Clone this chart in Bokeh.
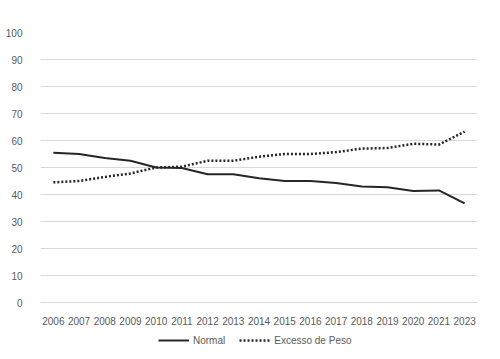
from bokeh.plotting import figure
from bokeh.models import FactorRange, Legend, LegendItem, Range1d, FixedTicker
from bokeh.layouts import column
from bokeh.embed import file_html
from bokeh.resources import INLINE

years = ["2006", "2007", "2008", "2009", "2010", "2011", "2012", "2013", "2014",
         "2015", "2016", "2017", "2018", "2019", "2020", "2021", "2023"]
normal = [55.5, 55.0, 53.5, 52.5, 50.0, 49.8, 47.5, 47.5, 46.0, 45.0, 45.0, 44.3,
          43.0, 42.7, 41.3, 41.5, 36.7]
excesso = [44.5, 45.0, 46.5, 47.8, 50.0, 50.3, 52.5, 52.5, 54.0, 55.0, 55.0, 55.7,
           57.0, 57.2, 58.8, 58.5, 63.3]
y_ticks = [0, 10, 20, 30, 40, 50, 60, 70, 80, 90, 100]
series_names = ["Normal", "Excesso de Peso"]

FONT = "Liberation Sans"
TXT = "#595959"
GRID = "#d9d9d9"
LINE = "#262626"
W = 492

p = figure(width=W, height=327, x_range=FactorRange(*years), y_range=Range1d(0, 100),
           output_backend="svg", toolbar_location=None,
           min_border_left=40, min_border_right=15, min_border_top=32, min_border_bottom=24)
p.outline_line_color = None
p.background_fill_color = "white"
p.border_fill_color = "white"

p.line(years, normal, line_color=LINE, line_width=2)
p.line(years, excesso, line_color=LINE, line_width=2.5, line_dash="2 2")

p.xgrid.grid_line_color = None
p.ygrid.grid_line_color = GRID
p.ygrid.grid_line_width = 1
p.yaxis.ticker = FixedTicker(ticks=y_ticks)

for ax in (p.xaxis, p.yaxis):
    ax.major_tick_line_color = None
    ax.minor_tick_line_color = None
    ax.major_label_text_font = FONT
    ax.major_label_text_font_size = "10px"
    ax.major_label_text_color = TXT
p.yaxis.axis_line_color = None
p.xaxis.axis_line_color = GRID
p.yaxis.major_label_standoff = 12
p.xaxis.major_label_standoff = 8

# legend strip below the chart (series drawn out of view; only the legend shows)
lf = figure(width=W, height=24, x_range=FactorRange(*years), y_range=Range1d(200, 300),
            x_axis_type=None, y_axis_type=None, output_backend="svg",
            toolbar_location=None, min_border=0)
lf.outline_line_color = None
lf.grid.grid_line_color = None
lf.border_fill_color = "white"
l1 = lf.line(years, normal, line_color=LINE, line_width=2)
l2 = lf.line(years, excesso, line_color=LINE, line_width=2.5, line_dash="2 2")

legend = Legend(items=[LegendItem(label=series_names[0], renderers=[l1]),
                       LegendItem(label=series_names[1], renderers=[l2])],
                orientation="horizontal", location=(118, 5),
                glyph_width=31, glyph_height=12, label_standoff=4, spacing=14,
                padding=0, margin=0, border_line_color=None,
                background_fill_alpha=0,
                label_text_font=FONT, label_text_font_size="10px",
                label_text_color=TXT, label_height=12)
lf.add_layout(legend)

layout = column(p, lf, spacing=0)
open("out.html", "w").write(file_html(layout, INLINE))
